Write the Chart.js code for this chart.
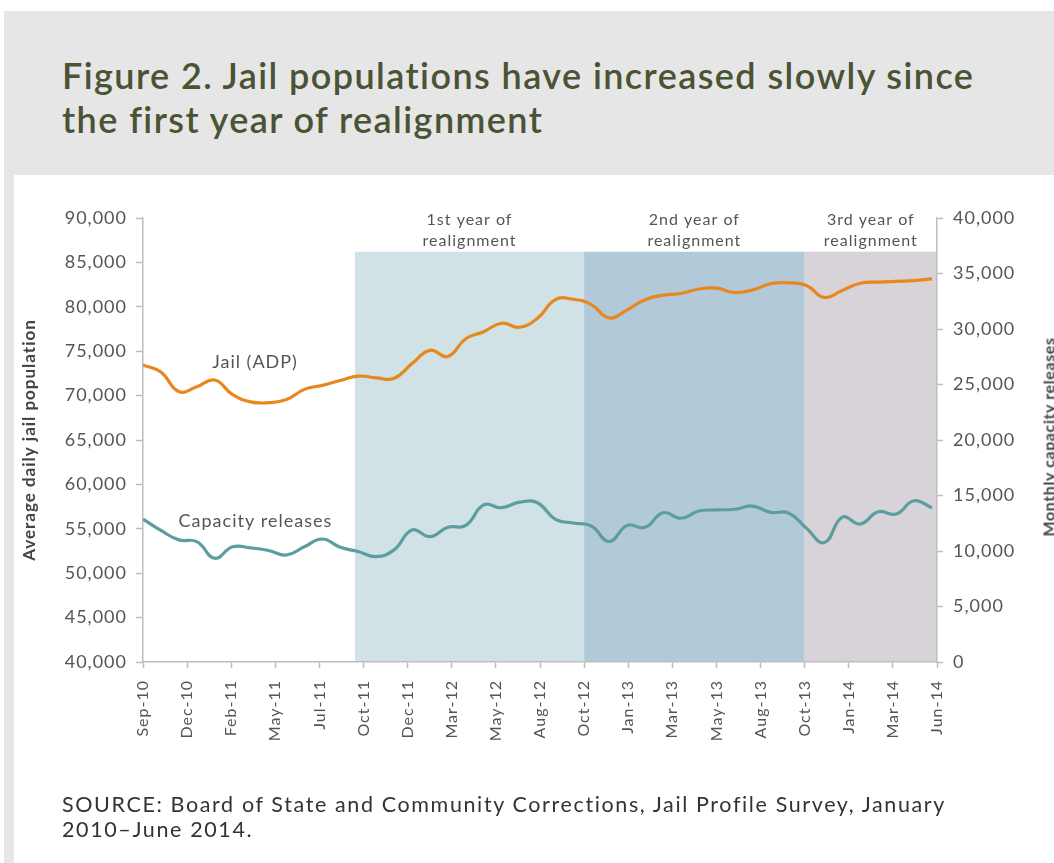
<!DOCTYPE html>
<html>
<head>
<meta charset="utf-8">
<script src="https://cdn.jsdelivr.net/npm/chart.js@4.4.0/dist/chart.umd.min.js"></script>
<style>
  html, body { margin: 0; padding: 0; width: 1054px; height: 863px; overflow: hidden; background: #fff; }
  #panel { position: absolute; left: 4px; top: 11px; width: 1050px; height: 852px; background: #e6e6e6; }
  #inner { position: absolute; left: 14px; top: 175px; width: 1040px; height: 688px; background: #fff; }
  #title { position: absolute; left: 62px; top: 53px; font-family: Lato, sans-serif; font-weight: 600;
           font-size: 36px; line-height: 44px; color: #4a5334; white-space: nowrap; }
  #source { position: absolute; left: 62px; top: 792px; font-family: Lato, sans-serif; font-size: 21.5px;
            line-height: 25px; color: #333; white-space: nowrap; }
  #title span, #source span { display: inline-block; }
  #rtitle { position: absolute; left: 1048px; top: 437px; transform: translate(-50%, -50%) rotate(-90deg);
            font-family: Lato, sans-serif; font-weight: 700; font-size: 16px; letter-spacing: 0.6px;
            color: #444; white-space: nowrap; }
  #wrap { position: absolute; left: 0; top: 0; width: 1054px; height: 863px; }
</style>
</head>
<body>
<div id="panel"></div>
<div id="inner"></div>
<div id="title"><span id="t1">Figure 2. Jail populations have increased slowly since</span><br><span id="t2">the first year of realignment</span></div>
<div id="wrap"><canvas id="chart" width="1054" height="863"></canvas></div>
<div id="rtitle">Monthly capacity releases</div>
<div id="source"><span id="s1">SOURCE: Board of State and Community Corrections, Jail Profile Survey, January</span><br><span id="s2">2010–June 2014.</span></div>

<script>
// Monthly series, September 2010 through May 2014 (45 months)
const months = [
  'Sep-10','Oct-10','Nov-10','Dec-10',
  'Jan-11','Feb-11','Mar-11','Apr-11','May-11','Jun-11','Jul-11','Aug-11','Sep-11','Oct-11','Nov-11','Dec-11',
  'Jan-12','Feb-12','Mar-12','Apr-12','May-12','Jun-12','Jul-12','Aug-12','Sep-12','Oct-12','Nov-12','Dec-12',
  'Jan-13','Feb-13','Mar-13','Apr-13','May-13','Jun-13','Jul-13','Aug-13','Sep-13','Oct-13','Nov-13','Dec-13',
  'Jan-14','Feb-14','Mar-14','Apr-14','May-14'
];

// Average daily jail population (left axis)
const jailADP = [
  73450, 72650, 70450, 71000,
  71750, 70100, 69300, 69200, 69550, 70700, 71150, 71700, 72200, 72000, 71950, 73600,
  75100, 74400, 76400, 77200, 78150, 77700, 78700, 80800, 80850, 80250, 78750, 79650,
  80800, 81300, 81500, 82000, 82100, 81600, 81900, 82600, 82700, 82400, 81050, 81850,
  82650, 82780, 82870, 82950, 83150
];

// Monthly capacity releases (right axis)
const capacityReleases = [
  12880, 11850, 11000, 10840,
  9350, 10380, 10280, 10050, 9640, 10380, 11080, 10330, 9960, 9490, 10100, 11900,
  11290, 12140, 12300, 14150, 13900, 14400, 14350, 12850, 12520, 12250, 10850, 12300,
  12130, 13450, 12950, 13600, 13700, 13760, 14050, 13480, 13420, 12050, 10760, 13050,
  12430, 13540, 13330, 14530, 13900
];

// Category-axis labels, evenly spaced along the time axis
const xTickLabels = ['Sep-10','Dec-10','Feb-11','May-11','Jul-11','Oct-11','Dec-11','Mar-12','May-12',
  'Aug-12','Oct-12','Jan-13','Mar-13','May-13','Aug-13','Oct-13','Jan-14','Mar-14','Jun-14'];
const xAxisEnd = 44.28;   // axis extent, in month positions from Sep-10

// Realignment periods, in month positions from Sep-10
const periodNames = [['1st year of', 'realignment'], ['2nd year of', 'realignment'], ['3rd year of', 'realignment']];
const periodStart = [11.82, 24.6, 36.9];
const periodEnd = [24.6, 36.9, 44.28];
const periodColors = ['#d0e2e5', '#b2c9d9', '#d8d3d8'];

const seriesNames = ['Jail (ADP)', 'Capacity releases'];

const FONT = 'Lato, sans-serif';
const AXIS_GRAY = '#bdbdbd';
const TEXT_GRAY = '#555';

const toPoints = arr => arr.map((v, i) => ({ x: i, y: v }));

// Spread the HTML headline and source note to their column width
function fitLine(id, width) {
  const el = document.getElementById(id);
  const n = el.textContent.length;
  const w = el.getBoundingClientRect().width;
  return (width - w) / n;
}
const titleSpacing = fitLine('t1', 913);
document.getElementById('title').style.letterSpacing = titleSpacing + 'px';
const sourceSpacing = fitLine('s1', 884);
document.getElementById('source').style.letterSpacing = sourceSpacing + 'px';

// Wider tracking for all canvas text
const trackingPlugin = {
  id: 'tracking',
  afterInit(chart) { chart.ctx.letterSpacing = '1px'; },
  beforeUpdate(chart) { chart.ctx.letterSpacing = '1px'; },
  beforeDraw(chart) { chart.ctx.letterSpacing = '1px'; }
};

// Shaded realignment periods, their headings and the series labels
const periodPlugin = {
  id: 'periods',
  beforeDraw(chart) {
    const { ctx, scales: { x, y } } = chart;
    const bottom = y.getPixelForValue(40000);
    const top = y.getPixelForValue(86200);
    ctx.save();
    periodStart.forEach((s, i) => {
      const x0 = x.getPixelForValue(s);
      const x1 = x.getPixelForValue(periodEnd[i]);
      ctx.fillStyle = periodColors[i];
      ctx.fillRect(x0, top, x1 - x0, bottom - top);
      ctx.fillStyle = TEXT_GRAY;
      ctx.font = '16px ' + FONT;
      ctx.textAlign = 'center';
      ctx.textBaseline = 'middle';
      const cx = (x0 + x1) / 2;
      ctx.fillText(periodNames[i][0], cx, y.getPixelForValue(89800));
      ctx.fillText(periodNames[i][1], cx, y.getPixelForValue(87450));
    });
    ctx.restore();
  },
  afterDatasetsDraw(chart) {
    const { ctx, scales: { x, y, y2 } } = chart;
    ctx.save();
    ctx.fillStyle = TEXT_GRAY;
    ctx.font = '18px ' + FONT;
    ctx.textAlign = 'center';
    ctx.textBaseline = 'middle';
    ctx.fillText(seriesNames[0], x.getPixelForValue(6.25), y.getPixelForValue(73750));
    ctx.fillText(seriesNames[1], x.getPixelForValue(6.27), y2.getPixelForValue(12650));
    ctx.restore();
  }
};

new Chart(document.getElementById('chart'), {
  type: 'line',
  data: {
    labels: months,
    datasets: [
      {
        label: seriesNames[0],
        data: toPoints(jailADP),
        yAxisID: 'y',
        borderColor: '#e9871f',
        borderWidth: 3.2,
        pointRadius: 0,
        tension: 0.45,
        fill: false
      },
      {
        label: seriesNames[1],
        data: toPoints(capacityReleases),
        yAxisID: 'y2',
        borderColor: '#5c9da0',
        borderWidth: 3.2,
        pointRadius: 0,
        tension: 0.45,
        fill: false
      }
    ]
  },
  options: {
    responsive: false,
    animation: false,
    layout: { padding: { top: 218, left: 0, right: 0, bottom: 0 } },
    plugins: { legend: { display: false }, tooltip: { enabled: false }, title: { display: false } },
    scales: {
      x: {
        type: 'linear',
        min: 0,
        max: xAxisEnd,
        afterFit: s => { s.height = 201; },
        afterBuildTicks: s => {
          s.ticks = xTickLabels.map((_, i) => ({ value: i * xAxisEnd / (xTickLabels.length - 1) }));
        },
        ticks: {
          autoSkip: false,
          minRotation: 90,
          maxRotation: 90,
          padding: 12,
          color: TEXT_GRAY,
          font: { family: FONT, size: 16 },
          callback: (v, i) => xTickLabels[i]
        },
        grid: { display: true, drawOnChartArea: false, drawTicks: true, tickLength: 6, tickColor: AXIS_GRAY, tickWidth: 1.5 },
        border: { display: true, color: AXIS_GRAY, width: 1.5 }
      },
      y: {
        position: 'left',
        min: 40000,
        max: 90000,
        afterFit: s => { s.width = 143; },
        ticks: {
          stepSize: 5000,
          padding: 9,
          color: TEXT_GRAY,
          font: { family: FONT, size: 18 },
          callback: v => v.toLocaleString('en-US')
        },
        grid: { display: true, drawOnChartArea: false, drawTicks: true, tickLength: 7, tickColor: AXIS_GRAY, tickWidth: 1.5 },
        border: { display: true, color: AXIS_GRAY, width: 1.5 },
        title: {
          display: true,
          text: 'Average daily jail population',
          color: '#444',
          font: { family: FONT, size: 17, weight: '700' },
          padding: { top: 19, bottom: 0 }
        }
      },
      y2: {
        position: 'right',
        min: 0,
        max: 40000,
        afterFit: s => { s.width = 117; },
        ticks: {
          stepSize: 5000,
          padding: 10,
          color: TEXT_GRAY,
          font: { family: FONT, size: 18 },
          callback: v => v.toLocaleString('en-US')
        },
        grid: { display: true, drawOnChartArea: false, drawTicks: true, tickLength: 6, tickColor: AXIS_GRAY, tickWidth: 1.5 },
        border: { display: true, color: AXIS_GRAY, width: 1.5 }
      }
    }
  },
  plugins: [trackingPlugin, periodPlugin]
});
</script>
</body>
</html>
